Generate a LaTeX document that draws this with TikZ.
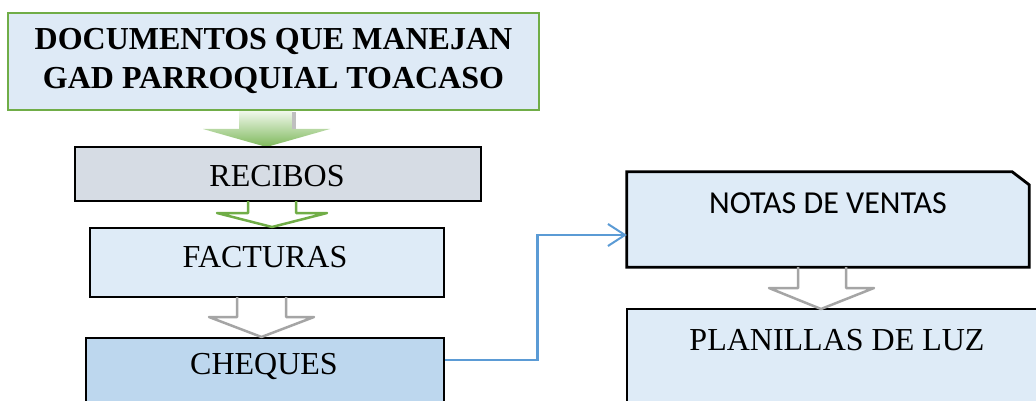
\documentclass[tikz,border=0pt]{standalone}
\usepackage{fontspec}
\setmainfont{Liberation Serif}
\newfontfamily\calibrifont{Carlito}
\usetikzlibrary{arrows.meta,calc}
\definecolor{titlefill}{HTML}{DEEAF6}
\definecolor{gborder}{HTML}{70AD47}
\definecolor{recfill}{HTML}{D6DCE4}
\definecolor{lightfill}{HTML}{DEEBF7}
\definecolor{chqfill}{HTML}{BDD7EE}
\definecolor{garrow}{HTML}{A5A5A5}
\definecolor{conncol}{HTML}{5B9BD5}
\definecolor{gtop}{HTML}{F4FAF0}
\definecolor{gbot}{HTML}{7DB85A}
\begin{document}
\begin{tikzpicture}[x=1pt,y=-1pt,
 box/.style={draw=black,line width=2.8pt,rectangle,inner sep=0pt,fill=lightfill},
 txt/.style={font=\fontsize{32}{38}\selectfont,inner sep=0pt},
 outarrow/.style={line width=2.5pt,line join=round,line cap=butt},
 conn/.style={draw=conncol,line width=2.2pt,-{Straight Barb[length=17pt,width=22pt,line width=2pt]}}]
\useasboundingbox (0,0) rectangle (1036,401);
\clip (0,0) rectangle (1036,401);
\fill[white] (0,0) rectangle (1036,401);

% green shaded block arrow
\shade[top color=gtop,bottom color=gbot] (239,110) -- (239,129) -- (203,129) -- (266.5,147) -- (330,129) -- (292,129) -- (292,110) -- cycle;
\fill[black!25] (292,112) rectangle (296,129);

\node[box, draw=gborder, line width=2.6pt, fill=titlefill, minimum width=531pt, minimum height=97pt, align=center, font=\bfseries\fontsize{32}{39}\selectfont] (title) at (273.5,61.5) {DOCUMENTOS QUE MANEJAN\\GAD PARROQUIAL TOACASO};

\node[box, fill=recfill, minimum width=406pt, minimum height=54pt] (recibos) at (278,174) {};
\node[txt] (rectext) at (277,176.5) {RECIBOS};
\node[box, minimum width=354pt, minimum height=69pt] (facturas) at (267,262.5) {};
\node[txt] (factext) at (265,257.5) {FACTURAS};
\node[box, fill=chqfill, minimum width=358pt, minimum height=82pt] (cheques) at (265,379) {};
\node[txt] (chqtext) at (264,366) {CHEQUES};

% notas de ventas (snipped corner)
\node[minimum width=402pt, minimum height=95pt, inner sep=0pt] (notas) at (828,219.5) {};
\filldraw[fill=lightfill, draw=black, line width=2.8pt, line join=miter]
  (notas.north west) -- ([xshift=-17pt]notas.north east) -- ([yshift=-13pt]notas.north east)
  -- (notas.south east) -- (notas.south west) -- cycle;
\node[txt, font=\calibrifont\fontsize{32}{38}\selectfont] (notastext) at (828,203) {NOTAS DE VENTAS};
\node[box, minimum width=423pt, minimum height=111pt] (planillas) at (838.5,364.5) {};
\node[txt] (pltext) at (837,340) {PLANILLAS DE LUZ};

% outline block arrows
\draw[outarrow, draw=gborder] (248,201) -- (248,213) -- (217,213) -- (272,227) -- (327,213) -- (296,213) -- (296,201);
\draw[outarrow, draw=garrow] (237,297) -- (237,317) -- (209,317) -- (261.5,337) -- (314,317) -- (286,317) -- (286,297);
\draw[outarrow, draw=garrow] (798,267) -- (798,288) -- (769,288) -- (821,309) -- (874,288) -- (846,288) -- (846,267);

% connector
\draw[conn] ([yshift=-23pt]cheques.north east) -- ++(92,0) |- ([yshift=-15.5pt]notas.west);
\end{tikzpicture}
\end{document}
